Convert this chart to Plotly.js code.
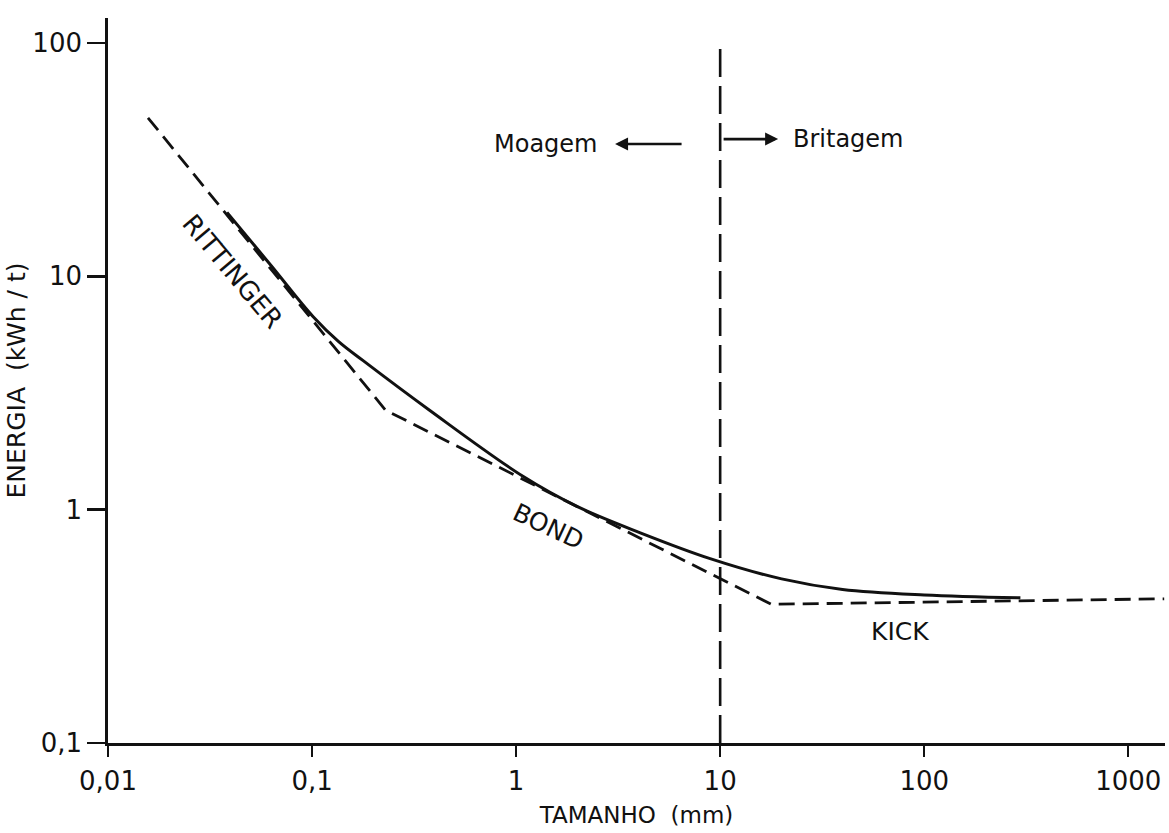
<!DOCTYPE html>
<html>
<head>
<meta charset="utf-8">
<script src="https://cdn.plot.ly/plotly-3.0.1.min.js"></script>
<style>
html,body{margin:0;padding:0;background:#fff;}
#chart{width:1169px;height:833px;}
</style>
</head>
<body>
<div id="chart"></div>
<script>
// Tick labels
const xTickVals = [0.01, 0.1, 1, 10, 100, 1000];
const xTickText = ['0,01', '0,1', '1', '10', '100', '1000'];
const yTickVals = [0.1, 1, 10, 100];
const yTickText = ['0,1', '1', '10', '100'];

const curveX = [0.0383, 0.0631, 0.101, 0.135, 0.178, 0.378, 1.08, 2.0, 4.06, 8.93, 20.0, 39.8, 100, 296];
const curveY = [18.8, 11.1, 6.73, 5.25, 4.35, 2.66, 1.39, 1.03, 0.796, 0.617, 0.505, 0.455, 0.431, 0.419];

// Dashed piecewise laws: Rittinger -> Bond -> Kick
const lawX = [0.0157, 0.229, 17.8, 1500];
const lawY = [47.8, 2.67, 0.393, 0.415];

// Boundary between grinding (Moagem) and crushing (Britagem)
const boundaryX = [10, 10];
const boundaryY = [0.1, 100];

// Labels
const lawLabels = ['RITTINGER', 'BOND', 'KICK'];
const zoneLabels = ['Moagem', 'Britagem'];

const ink = '#111111';
const fontFam = 'DejaVu Sans, Verdana, sans-serif';

const traces = [
  {x: curveX, y: curveY, type: 'scatter', mode: 'lines', line: {color: ink, width: 3, shape: 'spline', smoothing: 1}, hoverinfo: 'skip'},
  {x: lawX, y: lawY, type: 'scatter', mode: 'lines', line: {color: ink, width: 2.8, dash: '16px,8px'}, hoverinfo: 'skip'},
  {x: boundaryX, y: boundaryY, type: 'scatter', mode: 'lines', line: {color: ink, width: 2.6, dash: '28px,9px'}, hoverinfo: 'skip'}
];

const layout = {
  width: 1169, height: 833,
  margin: {l: 108, r: 4, t: 18, b: 90},
  paper_bgcolor: '#ffffff', plot_bgcolor: '#ffffff',
  showlegend: false,
  font: {family: fontFam, size: 24, color: ink},
  xaxis: {
    type: 'log', range: [-2, 3.18],
    tickvals: xTickVals, ticktext: xTickText,
    ticks: 'outside', ticklen: 11, tickwidth: 2.4, tickcolor: ink,
    ticklabelstandoff: 2,
    showline: true, linewidth: 2.8, linecolor: ink,
    showgrid: false, zeroline: false,
    tickfont: {family: fontFam, size: 26, color: ink},
    title: {text: 'TAMANHO  (mm)', standoff: 12, font: {family: fontFam, size: 23, color: ink}}
  },
  yaxis: {
    type: 'log', range: [-1, 2.107],
    tickvals: yTickVals, ticktext: yTickText,
    ticks: 'outside', ticklen: 18, tickwidth: 2.4, tickcolor: ink,
    showline: true, linewidth: 2.8, linecolor: ink,
    showgrid: false, zeroline: false,
    tickfont: {family: fontFam, size: 26, color: ink},
    title: {text: 'ENERGIA  (kWh / t)', standoff: 0, font: {family: fontFam, size: 25, color: ink}}
  },
  annotations: [
    {x: -1.392, y: 1.021, xref: 'x', yref: 'y', text: lawLabels[0], showarrow: false, textangle: 50, font: {size: 26}},
    {x: 0.157, y: -0.073, xref: 'x', yref: 'y', text: lawLabels[1], showarrow: false, textangle: 25, font: {size: 25}},
    {x: 1.882, y: -0.524, xref: 'x', yref: 'y', text: lawLabels[2], showarrow: false, font: {size: 25}},
    {x: 0.142, y: 1.567, xref: 'x', yref: 'y', text: zoneLabels[0], showarrow: false, font: {size: 24}},
    {x: 1.627, y: 1.588, xref: 'x', yref: 'y', text: zoneLabels[1], showarrow: false, font: {size: 24}},
    {x: 0.485, y: 1.567, xref: 'x', yref: 'y', text: '', showarrow: true, ax: 68, ay: 0, arrowhead: 2, arrowsize: 1, arrowwidth: 2.6, arrowcolor: ink, standoff: 0, startstandoff: 0},
    {x: 1.284, y: 1.588, xref: 'x', yref: 'y', text: '', showarrow: true, ax: -56, ay: 0, arrowhead: 2, arrowsize: 1, arrowwidth: 2.6, arrowcolor: ink, standoff: 0, startstandoff: 0}
  ]
};

Plotly.newPlot('chart', traces, layout, {displayModeBar: false, staticPlot: true});
</script>
</body>
</html>
